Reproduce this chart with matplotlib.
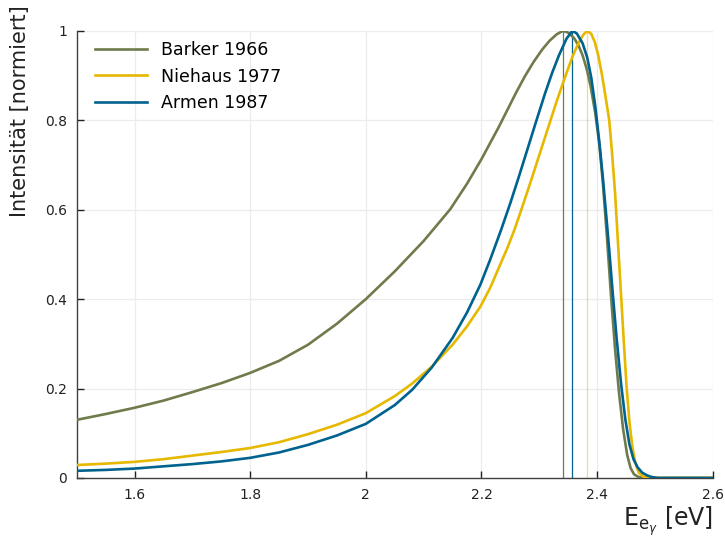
import matplotlib
matplotlib.use("Agg")
import matplotlib.pyplot as plt

# Photonenenergie [eV] und normierte Intensität je Messung
barker_x = [1.5, 1.55, 1.6, 1.65, 1.7, 1.75, 1.8, 1.85, 1.9, 1.95, 2.0, 2.05,
            2.1, 2.146, 2.175, 2.2, 2.23, 2.26, 2.275, 2.29, 2.305, 2.318, 2.33,
            2.341, 2.35, 2.36, 2.368, 2.375, 2.382, 2.389, 2.397, 2.404, 2.41,
            2.417, 2.424, 2.431, 2.438, 2.445, 2.452, 2.458, 2.464, 2.472,
            2.485, 2.6]
barker_y = [0.130, 0.143, 0.157, 0.173, 0.192, 0.212, 0.235, 0.262, 0.298, 0.345,
            0.400, 0.462, 0.530, 0.601, 0.658, 0.713, 0.785, 0.862, 0.898, 0.930,
            0.958, 0.978, 0.992, 1.000, 0.996, 0.984, 0.967, 0.945, 0.915, 0.875,
            0.815, 0.745, 0.660, 0.540, 0.410, 0.290, 0.190, 0.110, 0.052, 0.022,
            0.008, 0.002, 0.0, 0.0]

niehaus_x = [1.5, 1.55, 1.6, 1.65, 1.7, 1.75, 1.8, 1.85, 1.9, 1.95, 2.0, 2.05,
             2.08, 2.114, 2.15, 2.175, 2.198, 2.215, 2.23, 2.245, 2.257, 2.269,
             2.285, 2.3, 2.315, 2.33, 2.345, 2.358, 2.368, 2.376, 2.383, 2.39,
             2.396, 2.402, 2.408, 2.414, 2.421, 2.426, 2.431, 2.436, 2.441,
             2.446, 2.451, 2.456, 2.461, 2.466, 2.472, 2.48, 2.49, 2.6]
niehaus_y = [0.029, 0.032, 0.036, 0.042, 0.050, 0.058, 0.067, 0.080, 0.098, 0.119,
             0.145, 0.183, 0.211, 0.249, 0.298, 0.339, 0.383, 0.425, 0.470, 0.515,
             0.555, 0.600, 0.662, 0.722, 0.782, 0.842, 0.898, 0.944, 0.973, 0.991,
             1.000, 0.993, 0.975, 0.945, 0.905, 0.858, 0.800, 0.725, 0.640, 0.530,
             0.420, 0.310, 0.205, 0.125, 0.070, 0.035, 0.012, 0.003, 0.0, 0.0]

armen_x = [1.5, 1.55, 1.6, 1.65, 1.7, 1.75, 1.8, 1.85, 1.9, 1.95, 2.0, 2.05,
           2.08, 2.114, 2.15, 2.175, 2.198, 2.215, 2.234, 2.25, 2.265, 2.28,
           2.294, 2.31, 2.322, 2.334, 2.347, 2.357, 2.365, 2.375, 2.383, 2.39,
           2.397, 2.404, 2.41, 2.416, 2.421, 2.427, 2.434, 2.442, 2.449, 2.456,
           2.463, 2.47, 2.478, 2.486, 2.495, 2.505, 2.6]
armen_y = [0.016, 0.018, 0.021, 0.026, 0.031, 0.037, 0.045, 0.057, 0.074, 0.095,
           0.121, 0.163, 0.197, 0.247, 0.313, 0.370, 0.432, 0.488, 0.555, 0.615,
           0.675, 0.737, 0.795, 0.860, 0.905, 0.945, 0.982, 1.000, 0.994, 0.972,
           0.940, 0.895, 0.830, 0.750, 0.672, 0.585, 0.510, 0.415, 0.310, 0.205,
           0.130, 0.075, 0.042, 0.024, 0.012, 0.006, 0.002, 0.0, 0.0]

# Lage der Maxima
peaks = [2.341, 2.383, 2.357]
labels = ["Barker 1966", "Niehaus 1977", "Armen 1987"]
colors = ["#6f7b4b", "#e6b800", "#00628e"]

fig = plt.figure(figsize=(7.25, 5.5), dpi=100)
ax = fig.add_axes([0.106, 0.131, 0.877, 0.813])

series = [(barker_x, barker_y), (niehaus_x, niehaus_y), (armen_x, armen_y)]
for (xs, ys), lab, c in zip(series, labels, colors):
    ax.plot(xs, ys, color=c, linewidth=1.9, label=lab, zorder=3)

# senkrechte Linien an den Maxima
for p, c, a in zip(peaks, colors, [1.0, 0.5, 1.0]):
    ax.plot([p, p], [0, 1], color=c, linewidth=0.9, alpha=a, zorder=2)

ax.set_xlim(1.5, 2.6)
ax.set_ylim(0, 1.0)
ax.set_xticks([1.6, 1.8, 2.0, 2.2, 2.4, 2.6])
ax.set_xticklabels(["1.6", "1.8", "2", "2.2", "2.4", "2.6"])
ax.set_yticks([0, 0.2, 0.4, 0.6, 0.8, 1.0])
ax.set_yticklabels(["0", "0.2", "0.4", "0.6", "0.8", "1"])

ax.grid(True, color="#ececec", linewidth=0.9)
ax.set_axisbelow(True)
for s in ["top", "right"]:
    ax.spines[s].set_visible(False)
for s in ["left", "bottom"]:
    ax.spines[s].set_color("#404040")
    ax.spines[s].set_linewidth(1.0)
ax.tick_params(direction="in", length=5, width=1.0, color="#222222",
               labelsize=10, labelcolor="#222222", pad=7)

ax.set_ylabel("Intensität [normiert]", fontsize=15, color="#222222")
ax.yaxis.set_label_coords(-0.074, 1.058)
ax.yaxis.label.set_horizontalalignment("right")
ax.set_xlabel(r"$\mathrm{E}_{\mathrm{e}_{\gamma}}$ [eV]", fontsize=17, color="#222222")
ax.xaxis.set_label_coords(1.0, -0.06)
ax.xaxis.label.set_horizontalalignment("right")

ax.legend(loc="upper left", frameon=False, fontsize=12.5, handlelength=3.0,
          borderaxespad=0.2, labelspacing=0.48, bbox_to_anchor=(0.012, 1.0))

fig.savefig("out.png", dpi=100)
